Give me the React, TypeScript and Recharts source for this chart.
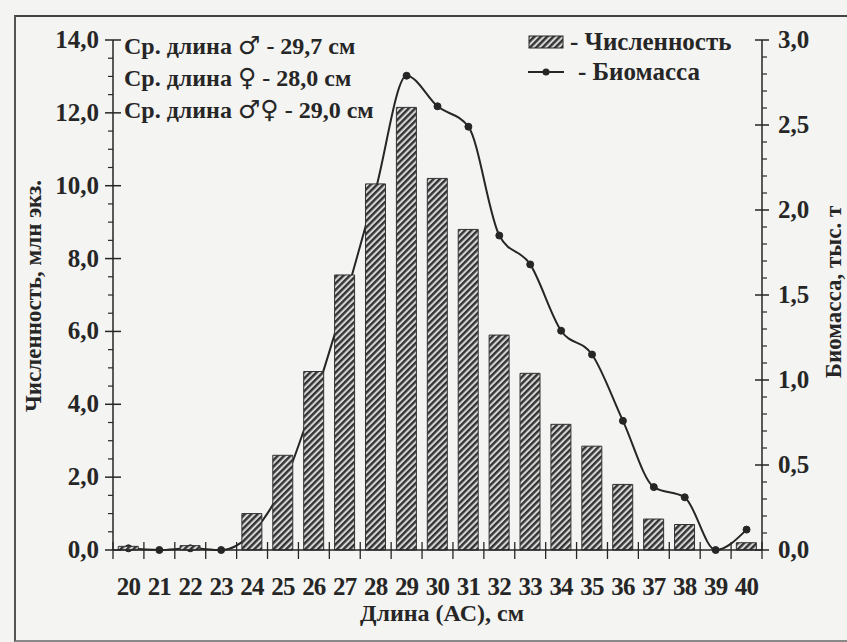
import { ComposedChart, Bar, Line, XAxis, YAxis, Label } from 'recharts';

const lengths = ['20', '21', '22', '23', '24', '25', '26', '27', '28', '29', '30', '31', '32', '33', '34', '35', '36', '37', '38', '39', '40'];
const abundance = [0.1, 0, 0.12, 0, 1.0, 2.6, 4.9, 7.55, 10.05, 12.15, 10.2, 8.8, 5.9, 4.85, 3.45, 2.85, 1.8, 0.85, 0.7, 0, 0.2];
const biomass = [0.01, 0, 0.01, 0, 0.1, 0.38, 0.88, 1.47, 2.12, 2.79, 2.61, 2.49, 1.85, 1.68, 1.29, 1.15, 0.76, 0.37, 0.31, 0, 0.12];

const leftTicks = [0, 2, 4, 6, 8, 10, 12, 14];
const rightTicks = [0, 0.5, 1, 1.5, 2, 2.5, 3];
const notes = [
  ['Ср. длина ', '♂', ' - 29,7 см'],
  ['Ср. длина ', '♀', ' - 28,0 см'],
  ['Ср. длина ', '♂♀', ' - 29,0 см'],
];

const W = 847;
const H = 642;
const TOP = 40;
const BOTTOM = 550;
const LEFT_AX = 113;
const RIGHT_AX = 762;
const FONT = '"Liberation Serif", "DejaVu Serif", serif';
const INK = '#262626';

const data = lengths.map((l, i) => ({ len: l, n: abundance[i], b: biomass[i] }));

// minor ticks: 0.5 on the left, 0.1 on the right
const leftAll: number[] = [];
for (let v = 0; v <= 14; v += 0.5) leftAll.push(v);
const rightAll: number[] = [];
for (let k = 0; k <= 30; k++) rightAll.push(k / 10);

const fmt = (v: number) => v.toFixed(1).replace('.', ',');

function LeftTick(props: any) {
  const { y, payload } = props;
  const v = payload.value;
  const major = leftTicks.includes(v);
  return (
    <g>
      {major ? (
        <>
          <line x1={LEFT_AX - 8} x2={LEFT_AX + 8} y1={y} y2={y} stroke={INK} strokeWidth={1.5} />
          <text x={LEFT_AX - 14} y={y + 8} textAnchor="end" fontSize={25} fontWeight="bold" fontFamily={FONT} fill={INK}>
            {fmt(v)}
          </text>
        </>
      ) : (
        <line x1={LEFT_AX - 5} x2={LEFT_AX} y1={y} y2={y} stroke={INK} strokeWidth={1.2} />
      )}
    </g>
  );
}

function RightTick(props: any) {
  const { y, payload } = props;
  const v = payload.value;
  const major = rightTicks.some((t) => Math.abs(t - v) < 1e-6);
  return (
    <g>
      {major ? (
        <>
          <line x1={RIGHT_AX - 7} x2={RIGHT_AX + 7} y1={y} y2={y} stroke={INK} strokeWidth={1.5} />
          <text x={RIGHT_AX + 16} y={y + 8} textAnchor="start" fontSize={25} fontWeight="bold" fontFamily={FONT} fill={INK}>
            {fmt(v)}
          </text>
        </>
      ) : (
        <line x1={RIGHT_AX} x2={RIGHT_AX + 5} y1={y} y2={y} stroke={INK} strokeWidth={1.2} />
      )}
    </g>
  );
}

function XTick(props: any) {
  const { x, payload, index } = props;
  const bw = (RIGHT_AX - LEFT_AX) / lengths.length;
  const last = index === lengths.length - 1;
  return (
    <g>
      <line x1={x - bw / 2} x2={x - bw / 2} y1={BOTTOM - 8} y2={BOTTOM + 9} stroke={INK} strokeWidth={1.3} />
      {last && <line x1={x + bw / 2} x2={x + bw / 2} y1={BOTTOM - 8} y2={BOTTOM + 9} stroke={INK} strokeWidth={1.3} />}
      <text x={x} y={BOTTOM + 45} textAnchor="middle" fontSize={25} fontWeight="bold" fontFamily={FONT} fill={INK} letterSpacing={-0.8}>
        {payload.value}
      </text>
    </g>
  );
}

const symStyle = { fontFamily: '"DejaVu Sans", sans-serif', fontWeight: 'normal' as const, fontSize: 25 };

// the biomass line sits behind the bars, so it gets its own chart underneath,
// together with the right-hand (biomass) axis
function LineLayer() {
  return (
    <ComposedChart
      width={W}
      height={H}
      data={data}
      margin={{ top: TOP, right: 0, bottom: 0, left: 0 }}
      style={{ position: 'absolute', left: 0, top: 0 }}
    >
      <XAxis dataKey="len" scale="band" height={H - BOTTOM} axisLine={false} tickLine={false} tick={false} />
      <YAxis yAxisId="n" width={LEFT_AX} domain={[0, 14]} axisLine={false} tickLine={false} tick={false} />
      <YAxis
        yAxisId="b"
        orientation="right"
        width={W - RIGHT_AX}
        domain={[0, 3]}
        ticks={rightAll}
        interval={0}
        stroke={INK}
        strokeWidth={1.5}
        tickLine={false}
        tick={<RightTick />}
      >
        <Label
          content={() => (
            <text
              x={841}
              y={292}
              transform="rotate(-90 841 292)"
              textAnchor="middle"
              fontSize={23}
              fontWeight="bold"
              fontFamily={FONT}
              fill={INK}
            >
              Биомасса, тыс. т
            </text>
          )}
        />
      </YAxis>
      <Line
        yAxisId="b"
        dataKey="b"
        type="monotone"
        stroke={INK}
        strokeWidth={2}
        dot={{ r: 3.5, fill: INK, stroke: INK, strokeWidth: 1 }}
        isAnimationActive={false}
      />
    </ComposedChart>
  );
}

export default function App() {
  return (
    <div style={{ position: 'absolute', left: 0, top: 0, width: W, height: H, background: '#f4f4f2', overflow: 'hidden' }}>
      <div
        style={{
          position: 'absolute',
          left: 14,
          top: 15,
          width: W,
          height: 623,
          borderLeft: '2px solid #555',
          borderTop: '2px solid #444',
          borderBottom: '2px solid #888',
        }}
      />
      <LineLayer />
      <ComposedChart
        width={W}
        height={H}
        data={data}
        margin={{ top: TOP, right: 0, bottom: 0, left: 0 }}
        barCategoryGap="17%"
        style={{ position: 'absolute', left: 0, top: 0 }}
      >
        <defs>
          <pattern id="hatch" patternUnits="userSpaceOnUse" width={4.5} height={4.5} patternTransform="rotate(45)">
            <rect width={4.5} height={4.5} fill="#d6d6d6" />
            <rect width={2.4} height={4.5} fill="#333" />
          </pattern>
        </defs>
        <XAxis
          dataKey="len"
          height={H - BOTTOM}
          stroke={INK}
          strokeWidth={1.5}
          tickLine={false}
          tick={<XTick />}
          interval={0}
        >
          <Label
            content={() => (
              <text x={442} y={621} textAnchor="middle" fontSize={24} fontWeight="bold" fontFamily={FONT} fill={INK}>
                Длина (АС), см
              </text>
            )}
          />
        </XAxis>
        <YAxis
          yAxisId="n"
          width={LEFT_AX}
          domain={[0, 14]}
          ticks={leftAll}
          interval={0}
          stroke={INK}
          strokeWidth={1.5}
          tickLine={false}
          tick={<LeftTick />}
        >
          <Label
            content={() => (
              <text
                x={41}
                y={296}
                transform="rotate(-90 41 296)"
                textAnchor="middle"
                fontSize={23}
                fontWeight="bold"
                fontFamily={FONT}
                fill={INK}
              >
                Численность, млн экз.
              </text>
            )}
          />
        </YAxis>
        <YAxis yAxisId="b" orientation="right" width={W - RIGHT_AX} domain={[0, 3]} axisLine={false} tickLine={false} tick={false} />
        <Bar yAxisId="n" dataKey="n" fill="url(#hatch)" stroke="#333" strokeWidth={1} isAnimationActive={false} />
      </ComposedChart>
      <div
        style={{
          position: 'absolute',
          left: 124,
          top: 30,
          fontFamily: FONT,
          fontWeight: 'bold',
          fontSize: 24,
          color: INK,
          lineHeight: '31px',
          whiteSpace: 'nowrap',
        }}
      >
        {notes.map((p) => (
          <div key={p.join('')}>
            {p[0]}
            <span style={symStyle}>{p[1]}</span>
            {p[2]}
          </div>
        ))}
      </div>
      <div
        style={{
          position: 'absolute',
          left: 528,
          top: 27,
          fontFamily: FONT,
          fontWeight: 'bold',
          fontSize: 25,
          color: INK,
          lineHeight: '30px',
          whiteSpace: 'nowrap',
        }}
      >
        <div style={{ display: 'flex', alignItems: 'center' }}>
          <svg width={36} height={14} style={{ marginRight: 6 }}>
            <rect x={1} y={1} width={34} height={12} fill="url(#hatch)" stroke={INK} strokeWidth={1} />
          </svg>
          <span>- Численность</span>
        </div>
        <div style={{ display: 'flex', alignItems: 'center' }}>
          <svg width={36} height={14} style={{ marginRight: 14 }}>
            <line x1={0} x2={36} y1={7} y2={7} stroke={INK} strokeWidth={2} />
            <circle cx={18} cy={7} r={3.5} fill={INK} />
          </svg>
          <span>- Биомасса</span>
        </div>
      </div>
    </div>
  );
}
